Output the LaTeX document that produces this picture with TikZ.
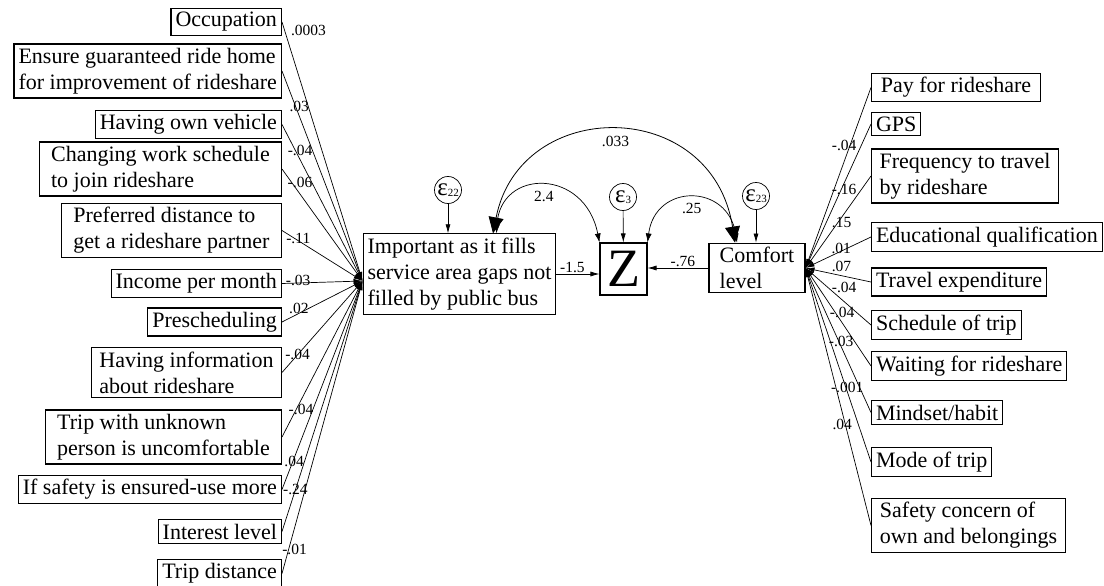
\documentclass[tikz,border=0pt]{standalone}
\usepackage{fontspec}
\setmainfont{Liberation Serif}
\usetikzlibrary{arrows.meta, positioning}

\begin{document}
\begin{tikzpicture}[x=1pt,y=-1pt,
  var/.style={draw,line width=1.1pt,inner xsep=4.5pt,inner ysep=4pt,align=left,font=\fontsize{22}{26}\selectfont},
  err/.style={draw,circle,line width=0.7pt,minimum size=27pt,inner sep=0pt},
  link/.style={line width=0.7pt,-{Latex[length=9pt,width=5pt]}},
  cov/.style={line width=0.8pt,{Triangle[length=16pt,width=15pt]}-{Triangle[length=16pt,width=15pt]}},
  covs/.style={line width=0.7pt,{Latex[length=9pt,width=6pt]}-{Latex[length=9pt,width=6pt]}},
  coef/.style={font=\fontsize{15.5}{15.5}\selectfont,inner sep=0pt}]
  \useasboundingbox (0,0) rectangle (1104,586);
  % Middle
  \node[var] (imp) at (459.5,274) {Important as it fills\\service area gaps not\\filled by public bus};
  \node[draw,line width=1.1pt,minimum width=47pt,minimum height=52pt,inner sep=0pt,font=\fontsize{54}{54}\selectfont] (z) at (623.5,269) {Z};
  \node[var,minimum width=96pt] (comf) at (757,268) {Comfort\\level};
  \node[err] (e22) at (448,190) {{\fontsize{25}{25}\selectfont ε}\raisebox{-1pt}{\fontsize{11}{11}\selectfont 22}};
  \node[err] (e3) at (623,197) {{\fontsize{25}{25}\selectfont ε}\raisebox{-1pt}{\fontsize{11}{11}\selectfont 3}};
  \node[err] (e23) at (756,196) {{\fontsize{25}{25}\selectfont ε}\raisebox{-1pt}{\fontsize{11}{11}\selectfont 23}};
  \draw[link] (e22) -- (e22 |- imp.north);
  \draw[link] (e3) -- (z);
  \draw[link] (e23) -- (e23 |- comf.north);
  \draw[link] (imp.east) -- (imp.east -| z.west) node[coef,pos=0.37,above=1pt] {-1.5};
  \draw[link] (comf.west) -- (comf.west -| z.east) node[coef,pos=0.42,above=1pt] {-.76};
  % Covariances
  \draw[cov] ([xshift=33.5pt]imp.north) .. controls (520,96) and (712,96) .. ([xshift=-22pt]comf.north) node[coef,pos=0.5,below=4pt] {.033};
  \draw[covs] ([xshift=37pt]imp.north) .. controls (500,168) and (585,168) .. (z.north west) node[coef,pos=0.5,below=5pt] {2.4};
  \draw[covs] (z.north east) .. controls (655,183) and (728,183) .. ([xshift=-20pt]comf.north) node[coef,pos=0.5,below=5pt] {.25};
  % Left predictors
  \node[var,anchor=east] (occ) at (282,22) {Occupation};
  \node[var,anchor=east] (grh) at (282,71) {Ensure guaranteed ride home\\for improvement of rideshare};
  \node[var,anchor=east] (veh) at (282,124.5) {Having own vehicle};
  \node[var,anchor=east,minimum width=242pt] (chg) at (282,169) {Changing work schedule\\to join rideshare};
  \node[var,anchor=east,minimum width=220pt] (pdp) at (282,230.5) {Preferred distance to\\get a rideshare partner};
  \node[var,anchor=east] (inc) at (282,283.5) {Income per month};
  \node[var,anchor=east] (pre) at (282,322) {Prescheduling};
  \node[var,anchor=east,minimum width=190pt] (inf) at (282,372.5) {Having information\\about rideshare};
  \node[var,anchor=east,minimum width=236pt] (unk) at (282,437) {Trip with unknown\\person is uncomfortable};
  \node[var,anchor=east] (saf) at (282,489.5) {If safety is ensured-use more};
  \node[var,anchor=east] (int) at (282,531.5) {Interest level};
  \node[var,anchor=east] (dis) at (282,573.5) {Trip distance};
  \coordinate (hubL) at ([yshift=-7pt]imp.west);
  \draw[link] (occ.east) -- (hubL) node[coef,pos=0.031,xshift=24pt] {.0003};
  \draw[link] (grh.east) -- (hubL) node[coef,pos=0.17,xshift=3.5pt] {.03};
  \draw[link] (veh.east) -- (hubL) node[coef,pos=0.168,xshift=4.5pt] {-.04};
  \draw[link] (chg.east) -- (hubL) node[coef,pos=0.124,xshift=8pt] {-.06};
  \draw[link] (pdp.east) -- (hubL) node[coef,pos=0.165,xshift=3pt] {-.11};
  \draw[link] (inc.east) -- (hubL) node[coef,pos=0.2,yshift=3pt] {-.03};
  \draw[link] (pre.east) -- (hubL) node[coef,pos=0.21,yshift=5pt] {.02};
  \draw[link] (inf.east) -- (hubL) node[coef,pos=0.193] {-.04};
  \draw[link] (unk.east) -- (hubL) node[coef,pos=0.174,xshift=5pt] {-.04};
  \draw[link] (saf.east) -- (hubL) node[coef,pos=0.1325,xshift=1.5pt] {.04};
  \draw[link] (int.east) -- (hubL) node[coef,pos=0.166] {-.24};
  \draw[link] (dis.east) -- (hubL) node[coef,pos=0.082,xshift=6pt] {-.01};
  % Right predictors
  \node[var,anchor=west,minimum width=169pt] (pay) at (871,87.5) {Pay for rideshare};
  \node[var,anchor=west] (gps) at (871,124) {GPS};
  \node[var,anchor=west,minimum width=187pt] (frq) at (871,176) {Frequency to travel\\by rideshare};
  \node[var,anchor=west] (edu) at (871,237) {Educational qualification};
  \node[var,anchor=west] (trv) at (871,282) {Travel expenditure};
  \node[var,anchor=west] (sch) at (871,325) {Schedule of trip};
  \node[var,anchor=west] (wai) at (871,366) {Waiting for rideshare};
  \node[var,anchor=west] (mnd) at (871,412.5) {Mindset/habit};
  \node[var,anchor=west] (mod) at (871,462) {Mode of trip};
  \node[var,anchor=west,minimum width=194pt] (sfc) at (871,525.5) {Safety concern of\\own and belongings};
  \draw[link] (pay.west) -- (comf.east) node[coef,pos=0.319,xshift=-6pt] {-.04};
  \draw[link] (gps.west) -- (comf.east) node[coef,pos=0.458,xshift=3pt] {-.16};
  \draw[link] (frq.west) -- (comf.east) node[coef,pos=0.51,xshift=4pt] {.15};
  \draw[link] (edu.west) -- (comf.east) node[coef,pos=0.355,xshift=-6.5pt] {.01};
  \draw[link] (trv.west) -- (comf.east) node[coef,pos=0.45,yshift=9pt] {.07};
  \draw[link] (sch.west) -- (comf.east) node[coef,pos=0.41,yshift=14pt] {-.04};
  \draw[link] (wai.west) -- (comf.east) node[coef,pos=0.44,yshift=10pt] {-.04};
  \draw[link] (mnd.west) -- (comf.east) node[coef,pos=0.455,yshift=5pt] {-.03};
  \draw[link] (mod.west) -- (comf.east) node[coef,pos=0.364,yshift=4pt] {-.001};
  \draw[link] (sfc.west) -- (comf.east) node[coef,pos=0.44,yshift=-12pt] {.04};
\end{tikzpicture}
\end{document}
